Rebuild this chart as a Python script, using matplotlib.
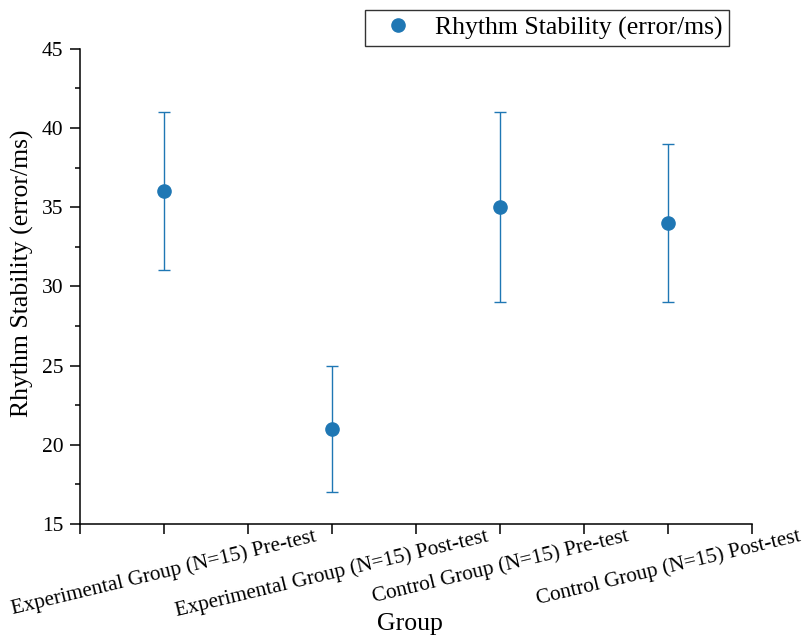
import matplotlib
matplotlib.use("Agg")
import matplotlib.pyplot as plt
from matplotlib.ticker import MultipleLocator

plt.rcParams["font.family"] = ["Liberation Serif", "DejaVu Serif"]

groups = [
    "Experimental Group (N=15) Pre-test",
    "Experimental Group (N=15) Post-test",
    "Control Group (N=15) Pre-test",
    "Control Group (N=15) Post-test",
]
means = [36, 21, 35, 34]
errors = [5, 4, 6, 5]

color = "#1f77b4"

fig = plt.figure(figsize=(8.08, 6.42), dpi=100)
ax = fig.add_axes([0.099, 0.184, 0.832, 0.740])

x = list(range(1, len(groups) + 1))
ax.errorbar(x, means, yerr=errors, fmt="none", ecolor=color,
            elinewidth=1, capsize=4, capthick=1)
ax.plot(x, means, "o", color=color, ms=9.5,
        label="Rhythm Stability (error/ms)")

ax.set_xlim(0.5, 4.5)
ax.set_ylim(15, 45)
ax.yaxis.set_major_locator(MultipleLocator(5))
ax.yaxis.set_minor_locator(MultipleLocator(2.5))
ax.set_xticks(x)
ax.set_xticks([0.5, 1.5, 2.5, 3.5, 4.5], minor=True)
ax.set_xticklabels(groups, rotation=13.5, ha="center", fontsize=15.3)
ax.tick_params(axis="y", labelsize=15.5, pad=5)
ax.tick_params(axis="x", pad=-5)
ax.tick_params(which="both", direction="out", length=7, width=1.1,
               color="black")
ax.tick_params(axis="y", which="minor", length=3.5)

for s in ["top", "right"]:
    ax.spines[s].set_visible(False)
for s in ["left", "bottom"]:
    ax.spines[s].set_linewidth(1.1)

ax.set_ylabel("Rhythm Stability (error/ms)", fontsize=18.5)
ax.yaxis.set_label_coords(-0.068, 0.528)
ax.set_xlabel("Group", fontsize=18.5)
ax.xaxis.set_label_coords(0.491, -0.187)

leg = ax.legend(loc="upper right", bbox_to_anchor=(729 / 808, 1 - 10 / 642),
                bbox_transform=fig.transFigure, borderaxespad=0,
                fontsize=18.5, frameon=True, fancybox=False,
                edgecolor="black", handletextpad=0.4, borderpad=0.25,
                handlelength=2.07)
leg.get_frame().set_linewidth(1)

fig.savefig("out.png", dpi=100)
